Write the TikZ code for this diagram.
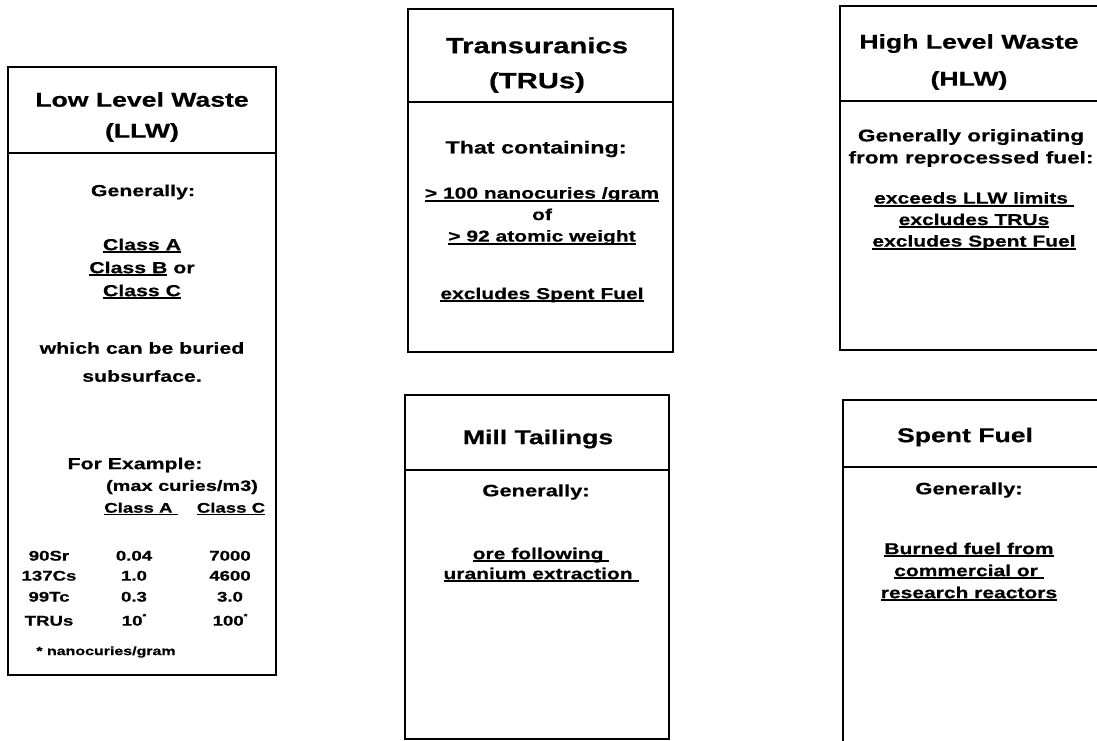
\documentclass[tikz,border=0pt]{standalone}
\usepackage{fontspec}
\setmainfont{Liberation Sans}[FakeStretch=1.33, BoldFeatures={FakeBold=0.6}]
% underline with a rule of our own
\newcommand{\undl}[1]{\setbox0=\hbox{#1}\leavevmode\rlap{\rule[-0.2em]{\wd0}{0.12em}}\box0\relax}
\newcommand{\astr}{\raisebox{0.5em}{\fontsize{7}{7}\selectfont *}}

\begin{document}
\begin{tikzpicture}[x=1pt, y=-1pt,
  boxline/.style={line width=2.2pt},
  wtxt/.style args={#1/#2}{font=\bfseries\fontsize{#1}{#2}\selectfont, align=center, inner sep=0pt},
  tbl/.style={wtxt=14/16, text height=0.72em, text depth=0pt}]
\useasboundingbox (0,0) rectangle (1097,740);
\clip (0,0) rectangle (1097,740);

% boxes
\draw[boxline] (8,67) rectangle (276,675);
\draw[boxline] (8,153) -- (276,153);
\draw[boxline] (408,9) rectangle (673,352);
\draw[boxline] (408,102) -- (673,102);
\draw[boxline] (405,395) rectangle (669,739);
\draw[boxline] (405,470) -- (669,470);
\draw[boxline] (840,6) rectangle (1110,350);
\draw[boxline] (840,101) -- (1110,101);
\draw[boxline] (843,400) rectangle (1110,770);
\draw[boxline] (843,467) -- (1110,467);

% Low Level Waste
\node[wtxt=20/31] (llwT) at (142,117) {Low Level Waste\\(LLW)};
\node[wtxt=16/23] (llwGen) at (143,192) {Generally:};
\node[wtxt=16/23] (llwCls) at (142,269) {\undl{Class A}\\\undl{Class B} or\\\undl{Class C}};
\node[wtxt=16/28] (llwBur) at (142,362) {which can be buried\\subsurface.};
\node[wtxt=16/20] (llwEx) at (135,465) {For Example:};
\node[wtxt=15/16] (llwMax) at (182,487) {(max curies/m3)};
\node[wtxt=14/16] (llwHdA) at (141,509) {\undl{Class A\ }};
\node[wtxt=14/16] (llwHdC) at (231,509) {\undl{Class C}};
\foreach \iso/\ca/\cc/\yy [count=\i] in {90Sr/0.04/7000/557, 137Cs/1.0/4600/577, 99Tc/0.3/3.0/598, TRUs/10\astr/100\astr/622}
{
  \node[tbl] (iso\i) at (49,\yy) {\iso};
  \node[tbl] (ca\i) at (134,\yy) {\ca};
  \node[tbl] (cc\i) at (230,\yy) {\cc};
}
\node[wtxt=12/14] (llwNote) at (106,652) {* nanocuries/gram};

% Transuranics
\node[wtxt=22/35] (truT) at (537,65) {Transuranics\\(TRUs)};
\node[wtxt=17.5/21.5] (truGen) at (536,149) {That containing:};
\node[wtxt=15.8/21.5] (truLim) at (542,216) {\undl{> 100 nanocuries /gram}\\of\\\undl{> 92 atomic weight}};
\node[wtxt=15.8/21.5] (truEx) at (542,295) {\undl{excludes Spent Fuel}};

% Mill Tailings
\node[wtxt=20/30] (millT) at (538,439) {Mill Tailings};
\node[wtxt=16.5/20] (millGen) at (536,492) {Generally:};
\node[wtxt=15.8/20] (millOre) at (541,565) {\undl{ore following\ }\\\undl{uranium extraction\ }};

% High Level Waste
\node[wtxt=20/37] (hlwT) at (969,62) {High Level Waste\\(HLW)};
\node[wtxt=17/22] (hlwGen) at (971,148) {Generally originating\\from reprocessed fuel:};
\node[wtxt=15.8/21.5] (hlwLim) at (974,221) {\undl{exceeds LLW limits\ }\\\undl{excludes TRUs}\\\undl{excludes Spent Fuel}};

% Spent Fuel
\node[wtxt=20/30] (spT) at (965,437) {Spent Fuel};
\node[wtxt=16.5/20] (spGen) at (969,490) {Generally:};
\node[wtxt=15.8/22] (spBur) at (969,572) {\undl{Burned fuel from}\\\undl{commercial or\ }\\\undl{research reactors}};

\end{tikzpicture}
\end{document}
